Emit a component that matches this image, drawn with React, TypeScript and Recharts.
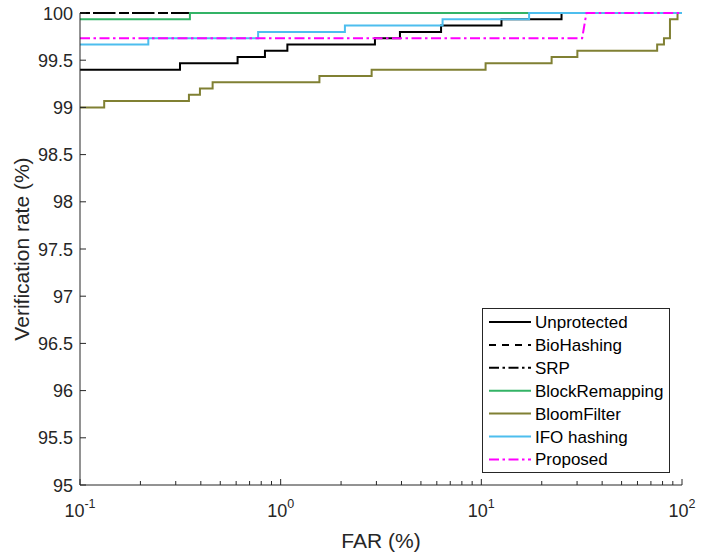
import React from "react"
import { LineChart, Line, XAxis, YAxis, Legend } from "recharts"

// FAR (%) breakpoints and verification rate (%) per method
const unprotectedFar = [0.1, 0.315, 0.61, 0.835, 1.08, 2.95, 3.93, 6.3, 12.6, 25.1, 100]
const unprotectedRate = [99.4, 99.467, 99.533, 99.6, 99.667, 99.733, 99.8, 99.867, 99.933, 100, 100]

const bioHashingFar = [0.1, 100]
const bioHashingRate = [100, 100]

const srpFar = [0.1, 100]
const srpRate = [100, 100]

const blockRemapFar = [0.1, 0.353, 100]
const blockRemapRate = [99.933, 100, 100]

const bloomFar = [0.1, 0.132, 0.349, 0.396, 0.458, 1.56, 2.84, 10.5, 22.4, 30.1, 75.2, 81.3, 87.1, 95, 100]
const bloomRate = [99.0, 99.067, 99.133, 99.2, 99.267, 99.333, 99.4, 99.467, 99.533, 99.6, 99.667, 99.733, 99.933, 100, 100]

const ifoFar = [0.1, 0.219, 0.772, 2.09, 6.41, 17.3, 100]
const ifoRate = [99.667, 99.733, 99.8, 99.867, 99.933, 100, 100]

const proposedFar = [0.1, 31.8, 33.4, 100]
const proposedRate = [99.733, 99.733, 100, 100]

const farTicks = [
  0.1, 0.2, 0.3, 0.4, 0.5, 0.6, 0.7, 0.8, 0.9,
  1, 2, 3, 4, 5, 6, 7, 8, 9,
  10, 20, 30, 40, 50, 60, 70, 80, 90,
  100,
]
const rateTicks = [95, 95.5, 96, 96.5, 97, 97.5, 98, 98.5, 99, 99.5, 100]

const FONT = "'Liberation Sans', Arial, Helvetica, sans-serif"
const AXIS = "#262626"
const TEXT = "#262626"

const toPoints = (far: number[], rate: number[]) => far.map((f, i) => ({ far: f, rate: rate[i] }))

const series = [
  { name: "Unprotected", color: "#000000", dash: undefined, type: "stepAfter", data: toPoints(unprotectedFar, unprotectedRate) },
  { name: "BioHashing", color: "#000000", dash: "7 6", type: "stepAfter", data: toPoints(bioHashingFar, bioHashingRate) },
  { name: "SRP", color: "#000000", dash: "10 3.5 2.5 3.5", type: "stepAfter", data: toPoints(srpFar, srpRate) },
  { name: "BlockRemapping", color: "#33b366", dash: undefined, type: "stepAfter", data: toPoints(blockRemapFar, blockRemapRate) },
  { name: "BloomFilter", color: "#808033", dash: undefined, type: "stepAfter", data: toPoints(bloomFar, bloomRate) },
  { name: "IFO hashing", color: "#4dbeee", dash: undefined, type: "stepAfter", data: toPoints(ifoFar, ifoRate) },
  { name: "Proposed", color: "#ff00ff", dash: "10 3.5 2.5 3.5", type: "linear", data: toPoints(proposedFar, proposedRate) },
]

const decade = (v: number) => {
  const e = Math.round(Math.log10(v))
  return { e, major: Math.abs(Math.log10(v) - e) < 1e-6 }
}

const BottomTick = (props: any) => {
  const { x, y, payload } = props
  const { e, major } = decade(payload.value)
  return (
    <g>
      <line x1={x} y1={y} x2={x} y2={y - (major ? 6 : 4)} stroke={AXIS} />
      {major && (
        <text x={x} y={y + 32} textAnchor="middle" fontSize={18} fill={TEXT} fontFamily={FONT}>
          10<tspan dy={-9} fontSize={12.5}>{e}</tspan>
        </text>
      )}
    </g>
  )
}

const TopTick = (props: any) => {
  const { x, y, payload } = props
  const { major } = decade(payload.value)
  return <line x1={x} y1={y} x2={x} y2={y + (major ? 6 : 4)} stroke={AXIS} />
}

const LeftTick = (props: any) => {
  const { x, y, payload } = props
  return (
    <g>
      <line x1={x} y1={y} x2={x + 6} y2={y} stroke={AXIS} />
      <text x={x - 7} y={y + 6.5} textAnchor="end" fontSize={18} fill={TEXT} fontFamily={FONT}>
        {String(payload.value)}
      </text>
    </g>
  )
}

const RightTick = (props: any) => {
  const { x, y } = props
  return <line x1={x} y1={y} x2={x - 6} y2={y} stroke={AXIS} />
}

const YLabel = (props: any) => {
  const { viewBox } = props
  const cx = viewBox.x + 9
  const cy = viewBox.y + viewBox.height / 2
  return (
    <text x={cx} y={cy} transform={`rotate(-90 ${cx} ${cy})`} textAnchor="middle" fontSize={21} fill={TEXT} fontFamily={FONT}>
      Verification rate (%)
    </text>
  )
}

const XLabel = (props: any) => {
  const { viewBox } = props
  return (
    <text x={viewBox.x + viewBox.width / 2} y={viewBox.y + 63} textAnchor="middle" fontSize={21} fill={TEXT} fontFamily={FONT}>
      FAR (%)
    </text>
  )
}

const LegendBox = () => (
  <svg width={188} height={165} style={{ display: "block", fontFamily: FONT }}>
    <rect x={0.5} y={0.5} width={187} height={164} fill="#ffffff" stroke={AXIS} strokeWidth={1} />
    {series.map((s, i) => {
      const cy = 14 + i * 22.9
      return (
        <g key={s.name}>
          <line x1={7} y1={cy} x2={49} y2={cy} stroke={s.color} strokeWidth={2} strokeDasharray={s.dash} />
          <text x={53} y={cy + 6} fontSize={17} fill="#000000">
            {s.name}
          </text>
        </g>
      )
    })}
  </svg>
)

export default function App() {
  return (
    <div style={{ position: "absolute", left: 0, top: 0, width: 701, height: 556, background: "#ffffff" }}>
      <LineChart width={701} height={556} margin={{ top: 13, right: 19, bottom: 41, left: 20 }}>
        <XAxis
          dataKey="far"
          type="number"
          scale="log"
          domain={[0.1, 100]}
          ticks={farTicks}
          interval={0}
          height={30}
          tickSize={0}
          tickMargin={0}
          tick={<BottomTick />}
          axisLine={{ stroke: AXIS }}
          label={XLabel}
        />
        <XAxis
          xAxisId="top"
          orientation="top"
          dataKey="far"
          type="number"
          scale="log"
          domain={[0.1, 100]}
          ticks={farTicks}
          interval={0}
          height={0}
          tickSize={0}
          tickMargin={0}
          tick={<TopTick />}
          axisLine={{ stroke: AXIS }}
        />
        <YAxis
          type="number"
          domain={[95, 100]}
          ticks={rateTicks}
          interval={0}
          width={60}
          tickSize={0}
          tickMargin={0}
          tick={<LeftTick />}
          axisLine={{ stroke: AXIS }}
          label={YLabel}
        />
        <YAxis
          yAxisId="right"
          orientation="right"
          type="number"
          domain={[95, 100]}
          ticks={rateTicks}
          interval={0}
          width={0}
          tickSize={0}
          tickMargin={0}
          tick={<RightTick />}
          axisLine={{ stroke: AXIS }}
        />
        {series.map((s) => (
          <Line
            key={s.name}
            data={s.data}
            dataKey="rate"
            name={s.name}
            type={s.type as any}
            stroke={s.color}
            strokeWidth={2}
            strokeDasharray={s.dash}
            dot={false}
            activeDot={false}
            isAnimationActive={false}
          />
        ))}
        <Legend
          layout="vertical"
          align="center"
          verticalAlign="middle"
          content={<LegendBox />}
          wrapperStyle={{ position: "absolute", left: 482, top: 308, width: 188, height: 165 }}
        />
      </LineChart>
    </div>
  )
}
